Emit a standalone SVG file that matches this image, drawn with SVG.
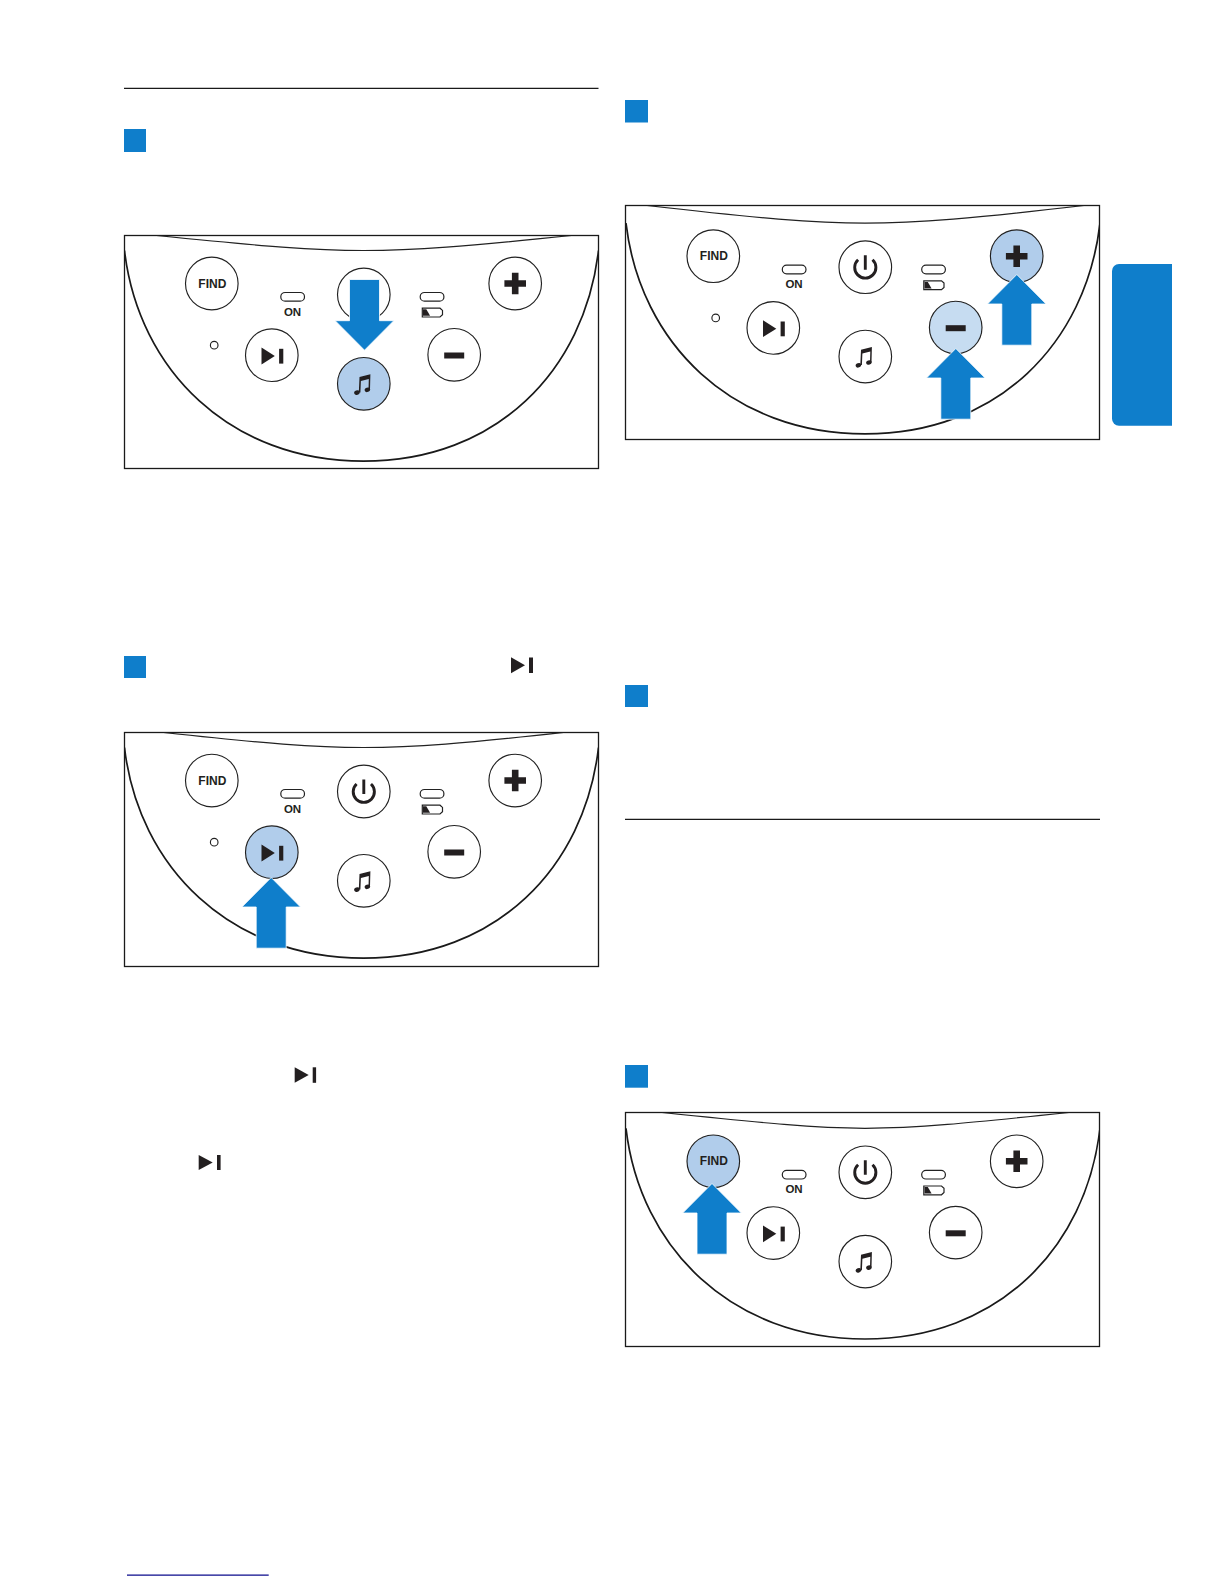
<svg xmlns="http://www.w3.org/2000/svg" xmlns:xlink="http://www.w3.org/1999/xlink" width="1224" height="1584" viewBox="0 0 1224 1584">
<style>
.frame{fill:#fff;stroke:#1a1a1a;stroke-width:1.3}
.top{fill:none;stroke:#222;stroke-width:1.2}
.bowl{fill:none;stroke:#1a1a1a;stroke-width:1.7}
.btn{fill:#fff;stroke:#222;stroke-width:1.15}
.on{fill:#b1cdeb}
.soft{fill:#c6dcf1}
.ink{fill:#231f20}
.pill{fill:#fff;stroke:#222;stroke-width:1.2}
.pw{fill:none;stroke:#231f20;stroke-width:2.9}
.lab{font-family:"Liberation Sans",Arial,sans-serif;font-weight:700;fill:#231f20;text-anchor:middle}
.arrow{fill:#0f7ecb;stroke:#fff;stroke-width:.8}
.sq{fill:#0f7ecb}
.rule{stroke:#1a1a1a;stroke-width:1.2}
</style>
<defs>
<clipPath id="clip"><rect x="0" y="0" width="474" height="233"/></clipPath>
<clipPath id="clip2"><rect x="0" y="0" width="474" height="234"/></clipPath>
<g id="play"><path class="ink" d="M-10.3-7.6V9.2L3 .8Z"/><rect class="ink" x="7.3" y="-6.4" width="4.2" height="14.8"/></g>
<g id="plus"><path class="ink" d="M-3.3-10.7H3.3V-3.3H10.8V3.3H3.3V10.7H-3.3V3.3H-10.8V-3.3H-3.3Z"/></g>
<g id="minus"><rect class="ink" x="-10" y="-2.3" width="20" height="6"/></g>
<g id="power"><path class="pw" d="M-7.2-7.5A10.6 10.6 0 1 0 7.2-7.5"/><path class="pw" d="M0-12V2.5"/></g>
<g id="note"><path class="ink" d="M-4.3-6.8L6.6-9.6L6.2 6H4.7L5-4.9L-2.9-2.9L-3.4 8.6H-5Z"/><ellipse class="ink" cx="-6.9" cy="8.8" rx="2.8" ry="2.2" transform="rotate(-20 -6.9 8.8)"/><ellipse class="ink" cx="3.6" cy="6" rx="2.8" ry="2.2" transform="rotate(-20 3.6 6)"/></g>
<g id="batt"><path class="pill" d="M.8 0H18.5L21 2.2V6.5L18.5 8.8H.8Z" style="stroke-width:1.2"/><path class="ink" d="M1.5 1H4.8L8.6 7.6H1.5Z"/></g>
<path id="arrowUp" d="M0 0L29.3 29.5H15V70.7H-15V29.5H-29.3Z"/>
</defs>

<g id="rules">
<path class="rule" d="M124 88.4H598.5"/>
<path class="rule" d="M625 819.4H1100"/>
<path d="M127 1575.2H268.7" stroke="#0b0b8c" stroke-width="1.3"/>
</g>

<g id="step-squares">
<rect class="sq" x="124" y="129" width="22" height="23"/>
<rect class="sq" x="124" y="656" width="22" height="22"/>
<rect class="sq" x="625" y="100" width="23" height="22.5"/>
<rect class="sq" x="625" y="685" width="23" height="22"/>
<rect class="sq" x="625" y="1065" width="23" height="22.7"/>
</g>

<path id="side-tab" class="sq" d="M1172 264H1119A7 7 0 0 0 1112 271V418.7A7 7 0 0 0 1119 425.7H1172Z"/>

<g id="inline-icons">
<g><path class="ink" d="M511 657.3V673.3L525 665.3Z"/><rect class="ink" x="529" y="657.5" width="4" height="15.5"/></g>
<g><path class="ink" d="M294.7 1067.3V1082.7L308.7 1075Z"/><rect class="ink" x="312.7" y="1067.3" width="3.4" height="15.5"/></g>
<g><path class="ink" d="M198.7 1155V1170L212.7 1162.5Z"/><rect class="ink" x="217" y="1155" width="3.6" height="15"/></g>
</g>

<g id="panel-music" transform="translate(124.5 235.5)">
<rect class="frame" width="474" height="233"/>
<g clip-path="url(#clip)">
<path class="top" d="M32 0C140 11 190 15 239 15C290 15 340 11 447 0"/>
<path class="bowl" d="M0 15C14 135 106 225.7 239 225.7C372 225.7 460 135 474 15"/>
<g id="p1-find"><circle class="btn" cx="87.3" cy="48" r="26.3"/><text class="lab" x="87.8" y="52.2" font-size="12">FIND</text></g>
<g id="p1-power"><circle class="btn" cx="239.3" cy="59" r="26.3"/></g>
<g id="p1-play"><circle class="btn" cx="147.3" cy="119.7" r="26.3"/><use xlink:href="#play" href="#play" x="147.3" y="119.7"/></g>
<g id="p1-music"><circle class="btn on" cx="239.3" cy="148.3" r="26.3"/><use xlink:href="#note" href="#note" x="239.3" y="148.3"/></g>
<g id="p1-minus"><circle class="btn" cx="329.7" cy="119.3" r="26.3"/><use xlink:href="#minus" href="#minus" x="329.7" y="119.3"/></g>
<g id="p1-plus"><circle class="btn" cx="390.7" cy="48" r="26.3"/><use xlink:href="#plus" href="#plus" x="390.7" y="48"/></g>
<g id="p1-led-on"><rect class="pill" x="156.3" y="57" width="23.7" height="8.7" rx="4.3"/><text class="lab" x="168" y="80" font-size="11.5">ON</text></g>
<g id="p1-led-batt"><rect class="pill" x="295.7" y="57" width="23.7" height="8.7" rx="4.3"/><use xlink:href="#batt" href="#batt" x="297" y="72.7"/></g>
<circle class="btn" cx="89.7" cy="109.7" r="3.8"/>
</g>
<use class="arrow" xlink:href="#arrowUp" href="#arrowUp" transform="translate(240 114.7) rotate(180)"/>
</g>

<g id="panel-volume" transform="translate(625.5 205.5)">
<rect class="frame" width="474" height="234"/>
<g clip-path="url(#clip2)"><g transform="translate(.5 2.7)">
<path class="top" d="M21 -2.7C130 10 190 15 239 15C290 15 350 10 458 -2.7"/>
<path class="bowl" d="M0 15C14 135 106 225.7 239 225.7C372 225.7 460 135 474 15"/>
<g id="p2-find"><circle class="btn" cx="87.3" cy="48" r="26.3"/><text class="lab" x="87.8" y="52.2" font-size="12">FIND</text></g>
<g id="p2-power"><circle class="btn" cx="239.3" cy="59" r="26.3"/><use xlink:href="#power" href="#power" x="239.3" y="59"/></g>
<g id="p2-play"><circle class="btn" cx="147.3" cy="119.7" r="26.3"/><use xlink:href="#play" href="#play" x="147.3" y="119.7"/></g>
<g id="p2-music"><circle class="btn" cx="239.3" cy="148.3" r="26.3"/><use xlink:href="#note" href="#note" x="239.3" y="148.3"/></g>
<g id="p2-minus"><circle class="btn soft" cx="329.7" cy="119.3" r="26.3"/><use xlink:href="#minus" href="#minus" x="329.7" y="119.3"/></g>
<g id="p2-plus"><circle class="btn on" cx="390.7" cy="48" r="26.3"/><use xlink:href="#plus" href="#plus" x="390.7" y="48"/></g>
<g id="p2-led-on"><rect class="pill" x="156.3" y="57" width="23.7" height="8.7" rx="4.3"/><text class="lab" x="168" y="80" font-size="11.5">ON</text></g>
<g id="p2-led-batt"><rect class="pill" x="295.7" y="57" width="23.7" height="8.7" rx="4.3"/><use xlink:href="#batt" href="#batt" x="297" y="72.7"/></g>
<circle class="btn" cx="89.7" cy="109.7" r="3.8"/>
</g></g>
<use class="arrow" xlink:href="#arrowUp" href="#arrowUp" x="330.3" y="143"/>
<use class="arrow" xlink:href="#arrowUp" href="#arrowUp" x="391.3" y="69"/>
</g>

<g id="panel-play" transform="translate(124.5 732.5)">
<rect class="frame" width="474" height="234"/>
<g clip-path="url(#clip2)">
<path class="top" d="M39 0C140 11 190 15 239 15C290 15 340 11 439 0"/>
<path class="bowl" d="M0 15C14 135 106 225.7 239 225.7C372 225.7 460 135 474 15"/>
<g id="p3-find"><circle class="btn" cx="87.3" cy="48" r="26.3"/><text class="lab" x="87.8" y="52.2" font-size="12">FIND</text></g>
<g id="p3-power"><circle class="btn" cx="239.3" cy="59" r="26.3"/><use xlink:href="#power" href="#power" x="239.3" y="59"/></g>
<g id="p3-play"><circle class="btn on" cx="147.3" cy="119.7" r="26.3"/><use xlink:href="#play" href="#play" x="147.3" y="119.7"/></g>
<g id="p3-music"><circle class="btn" cx="239.3" cy="148.3" r="26.3"/><use xlink:href="#note" href="#note" x="239.3" y="148.3"/></g>
<g id="p3-minus"><circle class="btn" cx="329.7" cy="119.3" r="26.3"/><use xlink:href="#minus" href="#minus" x="329.7" y="119.3"/></g>
<g id="p3-plus"><circle class="btn" cx="390.7" cy="48" r="26.3"/><use xlink:href="#plus" href="#plus" x="390.7" y="48"/></g>
<g id="p3-led-on"><rect class="pill" x="156.3" y="57" width="23.7" height="8.7" rx="4.3"/><text class="lab" x="168" y="80" font-size="11.5">ON</text></g>
<g id="p3-led-batt"><rect class="pill" x="295.7" y="57" width="23.7" height="8.7" rx="4.3"/><use xlink:href="#batt" href="#batt" x="297" y="72.7"/></g>
<circle class="btn" cx="89.7" cy="109.7" r="3.8"/>
</g>
<use class="arrow" xlink:href="#arrowUp" href="#arrowUp" x="146.7" y="145"/>
</g>

<g id="panel-find" transform="translate(625.5 1112.5)">
<rect class="frame" width="474" height="234"/>
<g clip-path="url(#clip2)"><g transform="translate(.5 .8)">
<path class="top" d="M36 -.8C140 10 190 15 239 15C290 15 340 10 443 -.8"/>
<path class="bowl" d="M0 15C14 135 106 225.7 239 225.7C372 225.7 460 135 474 15"/>
<g id="p4-find"><circle class="btn on" cx="87.3" cy="48" r="26.3"/><text class="lab" x="87.8" y="52.2" font-size="12">FIND</text></g>
<g id="p4-power"><circle class="btn" cx="239.3" cy="59" r="26.3"/><use xlink:href="#power" href="#power" x="239.3" y="59"/></g>
<g id="p4-play"><circle class="btn" cx="147.3" cy="119.7" r="26.3"/><use xlink:href="#play" href="#play" x="147.3" y="119.7"/></g>
<g id="p4-music"><circle class="btn" cx="239.3" cy="148.3" r="26.3"/><use xlink:href="#note" href="#note" x="239.3" y="148.3"/></g>
<g id="p4-minus"><circle class="btn" cx="329.7" cy="119.3" r="26.3"/><use xlink:href="#minus" href="#minus" x="329.7" y="119.3"/></g>
<g id="p4-plus"><circle class="btn" cx="390.7" cy="48" r="26.3"/><use xlink:href="#plus" href="#plus" x="390.7" y="48"/></g>
<g id="p4-led-on"><rect class="pill" x="156.3" y="57" width="23.7" height="8.7" rx="4.3"/><text class="lab" x="168" y="80" font-size="11.5">ON</text></g>
<g id="p4-led-batt"><rect class="pill" x="295.7" y="57" width="23.7" height="8.7" rx="4.3"/><use xlink:href="#batt" href="#batt" x="297" y="72.7"/></g>
<circle class="btn" cx="89.7" cy="109.7" r="3.8"/>
</g></g>
<use class="arrow" xlink:href="#arrowUp" href="#arrowUp" x="86.5" y="71"/>
</g>
</svg>
